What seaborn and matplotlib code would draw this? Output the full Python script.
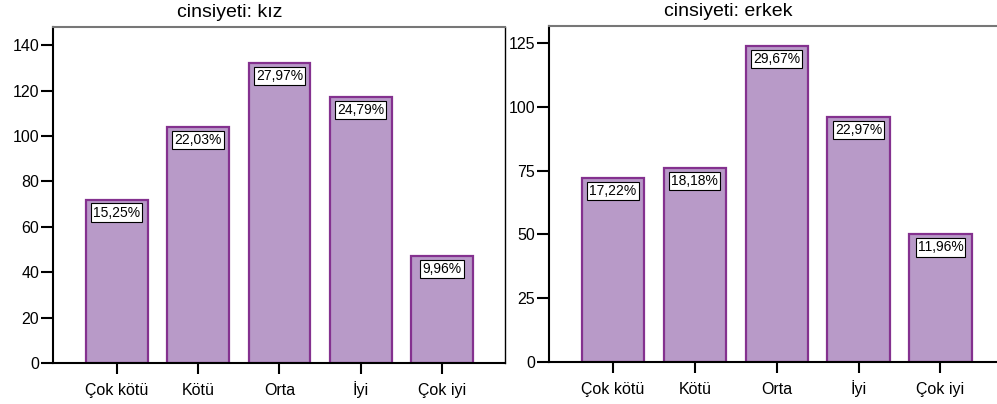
import matplotlib
matplotlib.use('Agg')
import matplotlib.pyplot as plt
import seaborn as sns
import pandas as pd

# --- Data ---
categories = ['Çok kötü', 'Kötü', 'Orta', 'İyi', 'Çok iyi']
kiz_counts = [72, 104, 132, 117, 47]
kiz_pct = ['15,25%', '22,03%', '27,97%', '24,79%', '9,96%']
erkek_counts = [72, 76, 124, 96, 50]
erkek_pct = ['17,22%', '18,18%', '29,67%', '22,97%', '11,96%']
kiz_yticks = [0, 20, 40, 60, 80, 100, 120, 140]
erkek_yticks = [0, 25, 50, 75, 100, 125]

FILL = '#B89AC8'
EDGE = '#84318F'

sns.set_theme(style='white')
plt.rcParams['font.family'] = ['Liberation Sans', 'DejaVu Sans']

fig = plt.figure(figsize=(9.97, 4.04), dpi=100)
ax1 = fig.add_axes([53 / 997, 1 - 363 / 404, 452 / 997, 336 / 404])
ax2 = fig.add_axes([549 / 997, 1 - 362 / 404, 448 / 997, 336 / 404])


def draw_panel(ax, counts, pct, yticks, ylim, xlim, title, title_x, right_spine):
    df = pd.DataFrame({'cat': categories, 'n': counts})
    sns.barplot(data=df, x='cat', y='n', ax=ax, color=FILL, width=0.76,
                saturation=1, edgecolor=EDGE, linewidth=1.6)
    for i, (n, p) in enumerate(zip(counts, pct)):
        ax.annotate(p, (i, n), xytext=(0, -13), textcoords='offset pixels',
                    ha='center', va='center', fontsize=10, color='black',
                    bbox=dict(boxstyle='square,pad=0.15', fc='white', ec='black', lw=0.8))
    ax.set_ylim(*ylim)
    ax.set_xlim(*xlim)
    ax.set_yticks(yticks)
    ax.set_xlabel('')
    ax.set_ylabel('')
    ax.tick_params(axis='y', direction='out', length=9, width=1.5, labelsize=11.5,
                   left=True, pad=1, colors='black')
    ax.tick_params(axis='x', direction='out', length=8, width=1.5, labelsize=11.5,
                   bottom=True, pad=15, colors='black')
    for lbl in ax.get_xticklabels():
        lbl.set_verticalalignment('baseline')
    for s in ['left', 'bottom']:
        ax.spines[s].set_color('black')
        ax.spines[s].set_linewidth(1.5)
    ax.spines['top'].set_color('#777777')
    ax.spines['top'].set_linewidth(1.5)
    if right_spine:
        ax.spines['right'].set_color('black')
        ax.spines['right'].set_linewidth(1.0)
    else:
        ax.spines['right'].set_visible(False)
    ax.text(title_x, 1 + 10 / 336, title, transform=ax.transAxes, ha='center',
            va='baseline', fontsize=14, color='black')


draw_panel(ax1, kiz_counts, kiz_pct, kiz_yticks, (0, 148), (-0.785, 4.773),
           'cinsiyeti: kız', 0.39, True)
draw_panel(ax2, erkek_counts, erkek_pct, erkek_yticks, (0, 131.7), (-0.78, 4.69),
           'cinsiyeti: erkek', 0.40, False)

fig.savefig('out.png', dpi=100)
